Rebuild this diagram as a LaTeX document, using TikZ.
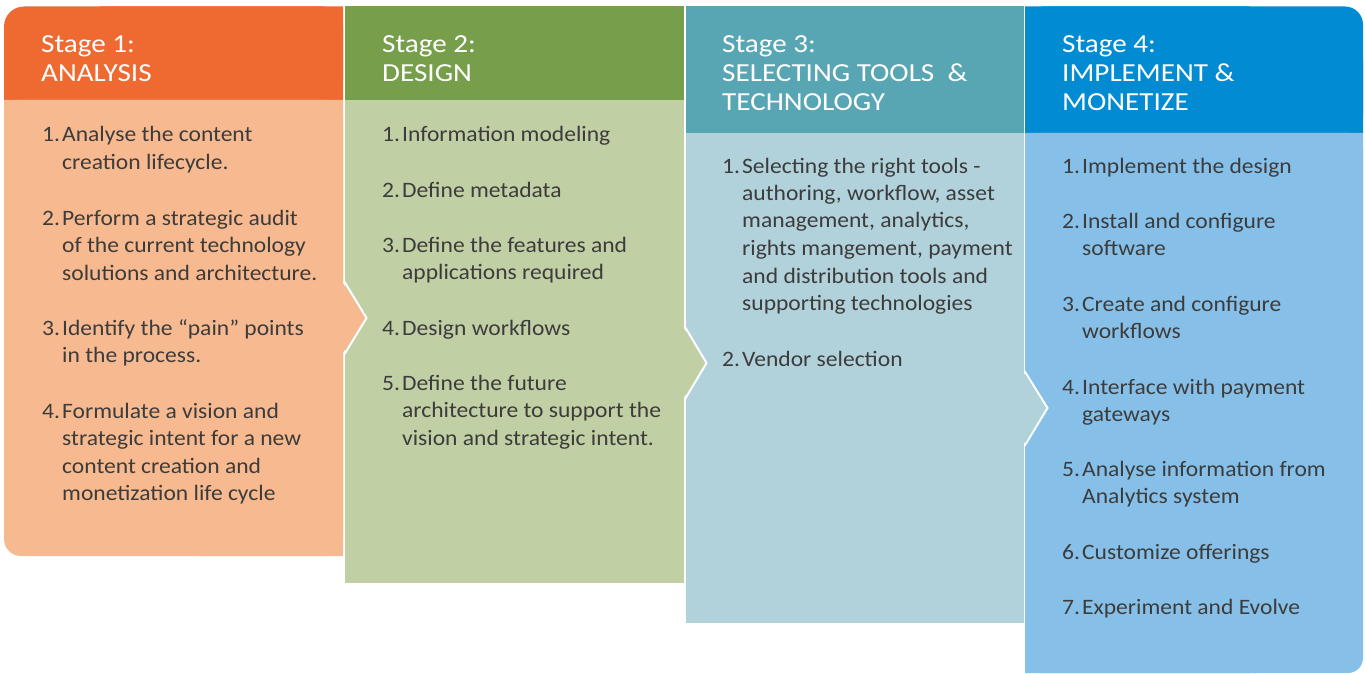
\documentclass[tikz,border=0pt]{standalone}
\usepackage{fontspec}
\setmainfont{Carlito}[FakeStretch=1.07]
\newfontfamily\hfont{Carlito}[FakeStretch=1.12]
\definecolor{hA}{HTML}{EE6A31}
\definecolor{bA}{HTML}{F7B990}
\definecolor{hB}{HTML}{779F4B}
\definecolor{bB}{HTML}{C0CFA4}
\definecolor{hC}{HTML}{58A6B3}
\definecolor{bC}{HTML}{B1D1DB}
\definecolor{hD}{HTML}{008BD2}
\definecolor{bD}{HTML}{86C0E9}
\definecolor{txt}{HTML}{3C3C3C}
\newcommand\itm[2]{\makebox[20pt][l]{#1}\begin{tabular}[t]{@{}l@{}}#2\end{tabular}}
\newcommand\hdr[1]{\begin{tabular}[t]{@{}l@{}}#1\end{tabular}}
\tikzset{
  itemtext/.style={anchor=base west, inner sep=0pt, text=txt, font=\fontsize{22}{27.5}\selectfont},
  headtext/.style={anchor=base west, inner sep=0pt, text=white, font=\hfont\fontsize{26}{29}\selectfont},
  sepline/.style={white, line width=2pt}
}
\begin{document}
\begin{tikzpicture}[x=1pt,y=-1pt]
\useasboundingbox (0,0) rectangle (1365,674);
% ---- column 1
\fill[hA, rounded corners=20pt] (4,6.5) rectangle (343,100);
\fill[hA] (4,50) rectangle (343,100) (100,6.5) rectangle (343,100);
\fill[bA, rounded corners=17pt] (4,100) rectangle (343,556);
\fill[bA] (4,100) rectangle (343,300) (200,100) rectangle (343,556);
% ---- column 2
\fill[hB] (345,6.5) rectangle (684,100);
\fill[bB] (345,100) rectangle (684,583);
% ---- column 3
\fill[hC] (685.5,6.5) rectangle (1023.5,133);
\fill[bC] (685.5,133) rectangle (1023.5,623);
% ---- column 4
\fill[hD, rounded corners=18pt] (1025,6.5) rectangle (1363,133);
\fill[hD] (1025,60) rectangle (1363,133) (1025,6.5) rectangle (1250,133);
\fill[bD, rounded corners=15pt] (1025,133) rectangle (1363,673);
\fill[bD] (1025,133) rectangle (1363,400) (1025,133) rectangle (1250,673);
% ---- arrows
\fill[bA] (342,282) -- (366,318) -- (342,354) -- cycle;
\draw[sepline] (344,281) -- (366.5,318) -- (344,355);
\fill[bB] (683,327) -- (706,363) -- (683,399) -- cycle;
\draw[sepline] (684.5,326) -- (706.5,363) -- (684.5,400);
\fill[bC] (1023,372) -- (1047,408) -- (1023,445) -- cycle;
\draw[sepline] (1024.5,371) -- (1047.5,408) -- (1024.5,446);
% ---- headers
\node[headtext] (h1) at (41,53) {\hdr{Stage 1:\\ANALYSIS}};
\node[headtext] (h2) at (382,53) {\hdr{Stage 2:\\DESIGN}};
\node[headtext] (h3) at (722,53) {\hdr{Stage 3:\\SELECTING TOOLS\ \ \&\\TECHNOLOGY}};
\node[headtext] (h4) at (1062,53) {\hdr{Stage 4:\\IMPLEMENT \&\\MONETIZE}};
% ---- column 1 items
\node[itemtext] (a1) at (42,142) {\itm{1.}{Analyse the content\\creation lifecycle.}};
\node[itemtext] (a2) at (42,225) {\itm{2.}{Perform a strategic audit\\of the current technology\\solutions and architecture.}};
\node[itemtext] (a3) at (42,335) {\itm{3.}{Identify the “pain” points\\in the process.}};
\node[itemtext] (a4) at (42,418) {\itm{4.}{Formulate a vision and\\strategic intent for a new\\content creation and\\monetization life cycle}};
% ---- column 2 items
\node[itemtext] (b1) at (382,142) {\itm{1.}{Information modeling}};
\node[itemtext] (b2) at (382,197) {\itm{2.}{Define metadata}};
\node[itemtext] (b3) at (382,252) {\itm{3.}{Define the features and\\applications required}};
\node[itemtext] (b4) at (382,335) {\itm{4.}{Design workflows}};
\node[itemtext] (b5) at (382,390) {\itm{5.}{Define the future\\architecture to support the\\vision and strategic intent.}};
% ---- column 3 items
\node[itemtext] (c1) at (722,173) {\itm{1.}{Selecting the right tools -\\authoring, workflow, asset\\management, analytics,\\rights mangement, payment\\and distribution tools and\\supporting technologies}};
\node[itemtext] (c2) at (722,366) {\itm{2.}{Vendor selection}};
% ---- column 4 items
\node[itemtext] (d1) at (1062,173) {\itm{1.}{Implement the design}};
\node[itemtext] (d2) at (1062,228) {\itm{2.}{Install and configure\\software}};
\node[itemtext] (d3) at (1062,311) {\itm{3.}{Create and configure\\workflows}};
\node[itemtext] (d4) at (1062,394) {\itm{4.}{Interface with payment\\gateways}};
\node[itemtext] (d5) at (1062,476) {\itm{5.}{Analyse information from\\Analytics system}};
\node[itemtext] (d6) at (1062,559) {\itm{6.}{Customize offerings}};
\node[itemtext] (d7) at (1062,614) {\itm{7.}{Experiment and Evolve}};
\end{tikzpicture}
\end{document}
